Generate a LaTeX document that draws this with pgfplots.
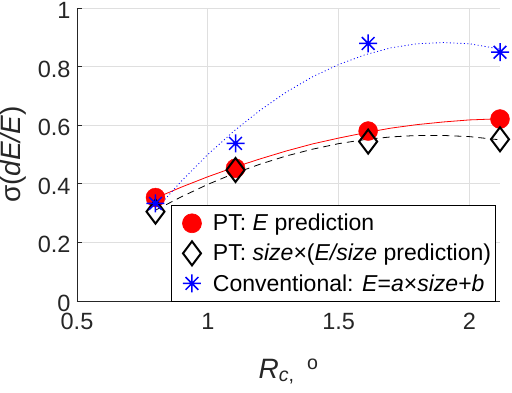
\documentclass[border=0pt]{standalone}
\usepackage{fontspec}
\setmainfont{Liberation Sans}
\usepackage{pgfplots}
\pgfplotsset{compat=1.18}

\definecolor{axgray}{RGB}{38,38,38}
\definecolor{gridgray}{RGB}{223,223,223}

% matlab-style asterisk (8 arms)
\pgfdeclareplotmark{mstar}{%
  \pgfpathmoveto{\pgfqpoint{-\pgfplotmarksize}{0pt}}\pgfpathlineto{\pgfqpoint{\pgfplotmarksize}{0pt}}%
  \pgfpathmoveto{\pgfqpoint{0pt}{-\pgfplotmarksize}}\pgfpathlineto{\pgfqpoint{0pt}{\pgfplotmarksize}}%
  \pgfpathmoveto{\pgfqpoint{-0.707\pgfplotmarksize}{-0.707\pgfplotmarksize}}\pgfpathlineto{\pgfqpoint{0.707\pgfplotmarksize}{0.707\pgfplotmarksize}}%
  \pgfpathmoveto{\pgfqpoint{-0.707\pgfplotmarksize}{0.707\pgfplotmarksize}}\pgfpathlineto{\pgfqpoint{0.707\pgfplotmarksize}{-0.707\pgfplotmarksize}}%
  \pgfusepathqstroke}

\begin{document}
\begin{tikzpicture}

\begin{axis}[
name=ax,
scale only axis,
width=423pt,
height=293pt,
xmin=0.5, xmax=2.117,
ymin=0, ymax=1,
xtick={0.5,1,1.5,2},
ytick={0,0.2,0.4,0.6,0.8,1},
axis x line*=bottom,
axis y line*=left,
axis line style={axgray, line width=0.6pt},
tick style={axgray, line width=0.6pt},
tick align=inside,
major tick length=5pt,
grid=major,
major grid style={gridgray, line width=0.6pt},
/pgf/number format/assume math mode=true,
every tick label/.append style={font=\fontsize{23.5}{28}\selectfont, text=axgray},
yticklabel style={xshift=-3pt, yshift=-2.5pt},
xticklabel style={yshift=-9pt},
xlabel={\textit{R}\textsubscript{\textit{c},}\, \textsuperscript{o}},
ylabel={σ(\textit{dE/E})},
xlabel style={font=\fontsize{28}{32}\selectfont, text=axgray,
  at={(axis description cs:0.5,-0.263)}, anchor=base},
ylabel style={font=\fontsize{28}{32}\selectfont, text=axgray,
  at={(axis description cs:-0.133,0.5)}, anchor=base},
legend style={
  font=\fontsize{23}{27}\selectfont,
  draw=black, fill=white, line width=0.6pt,
  at={(0.2215,0.328)}, anchor=north west,
  row sep=7pt, inner xsep=2pt, inner ysep=7pt,
  /tikz/every odd column/.append style={column sep=3pt}
},
legend image code/.code={
  \path[draw=none, fill=none] (0pt,0pt) -- (35pt,0pt);
  \draw[#1] plot coordinates {(19pt,0pt)};
},
legend cell align=left,
clip=false,
]

% fitted curves
\addplot[red, line width=0.8pt, forget plot] coordinates {
(0.8,0.351) (0.9,0.389) (1.0,0.424) (1.1,0.456) (1.2,0.485) (1.3,0.512)
(1.4,0.536) (1.5,0.556) (1.6,0.574) (1.7,0.590) (1.8,0.602) (1.9,0.611)
(2.0,0.618) (2.117,0.622)
};
\addplot[black, line width=0.8pt, dash pattern=on 7pt off 5pt, forget plot] coordinates {
(0.8,0.310) (0.9,0.356) (1.0,0.398) (1.1,0.435) (1.2,0.467) (1.3,0.495)
(1.4,0.518) (1.5,0.537) (1.6,0.551) (1.7,0.560) (1.8,0.565) (1.9,0.565)
(2.0,0.561) (2.117,0.550)
};
\addplot[blue, line width=0.8pt, dash pattern=on 1pt off 2.5pt, forget plot] coordinates {
(0.8,0.311) (0.9,0.410) (1.0,0.500) (1.1,0.580) (1.2,0.651) (1.3,0.713)
(1.4,0.765) (1.5,0.807) (1.6,0.840) (1.7,0.864) (1.8,0.878) (1.9,0.882)
(2.0,0.878) (2.117,0.860)
};

% measured points
\addplot[only marks, mark=*, mark size=9.5pt, draw=red, fill=red] coordinates {
(0.8,0.353) (1.106,0.453) (1.613,0.580) (2.117,0.621)
};
\addplot[only marks, mark=diamond, mark size=12pt, draw=black, line width=2pt] coordinates {
(0.8,0.305) (1.106,0.447) (1.613,0.544) (2.117,0.552)
};
\addplot[only marks, mark=mstar, mark size=9pt, draw=blue, line width=1.5pt] coordinates {
(0.8,0.333) (1.106,0.538) (1.613,0.879) (2.117,0.849)
};

\legend{PT: \textit{E} prediction,
PT: \textit{size}×(\textit{E/size} prediction),
Conventional: \textit{E}=\textit{a}×\textit{size}+\textit{b}}
\end{axis}

\pgfresetboundingbox
\path[use as bounding box] ([xshift=-77pt,yshift=-92pt]ax.south west) rectangle ([xshift=12pt,yshift=8pt]ax.north east);

\end{tikzpicture}
\end{document}
